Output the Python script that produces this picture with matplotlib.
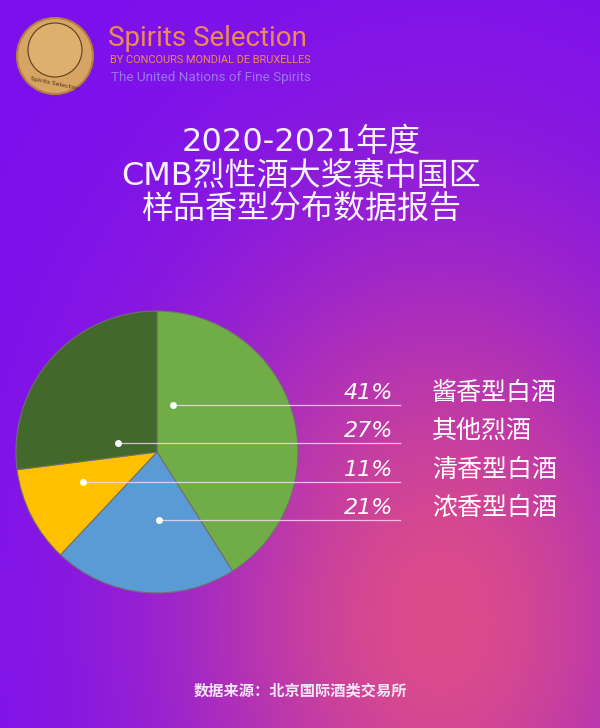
import numpy as np
import matplotlib
matplotlib.use("Agg")
import matplotlib.pyplot as plt
from matplotlib.patches import Circle

plt.rcParams['font.family'] = ['Noto Sans CJK SC', 'DejaVu Sans']

# data (clockwise from 12 o'clock)
categories = ["酱香型白酒", "浓香型白酒", "清香型白酒", "其他烈酒"]
shares = [41, 21, 11, 27]
colors = ["#70AD47", "#5B9BD5", "#FFC000", "#43682B"]

# order of the label rows, top to bottom
label_rows = ["酱香型白酒", "其他烈酒", "清香型白酒", "浓香型白酒"]
# x of the white dot inside each wedge, and y of its leader line (image px)
dot_x = [173, 118, 83, 159]
line_y = [405, 443, 482, 520]

title_lines = ["2020-2021年度", "CMB烈性酒大奖赛中国区", "样品香型分布数据报告"]
source = "数据来源：北京国际酒类交易所"

W, H = 600, 728
fig = plt.figure(figsize=(6, 7.28), dpi=100)
ax = fig.add_axes([0, 0, 1, 1])

# background: purple with a pink glow at the lower right
yy, xx = np.mgrid[0:H, 0:W]
purple = np.array([123, 16, 238]) / 255
pink = np.array([220, 76, 138]) / 255
w = np.exp(-0.5 * ((xx - 440) / 190) ** 2 - 0.5 * ((yy - 620) / 260) ** 2)
bg = purple * (1 - w[..., None]) + pink * w[..., None]
ax.imshow(bg, extent=(0, W, 0, H), origin="upper", zorder=0)

# logo
ax.add_patch(Circle((55, H - 56), 38, fc="#D6A463", ec="#B5803F", lw=1.5, zorder=1))
ax.add_patch(Circle((55, H - 50), 27, fc="#DDB06E", ec="#5a3d1e", lw=0.8, zorder=1))
ax.text(55, H - 84, "Spirits Selection", fontsize=4.5, color="#4a3018",
        ha="center", va="center", rotation=-12, family="DejaVu Sans")
ax.text(108, H - 39, "Spirits Selection", fontsize=20, color="#EE8A55",
        ha="left", va="center", family="Roboto")
ax.text(110, H - 60, "BY CONCOURS MONDIAL DE BRUXELLES", fontsize=7.9,
        color="#EE8A55", ha="left", va="center", family="Roboto")
ax.text(111, H - 77, "The United Nations of Fine Spirits", fontsize=9.7,
        color="#9A78E6", ha="left", va="center", family="Roboto")

# title
for txt, y in zip(title_lines, [142, 176, 210]):
    ax.text(301, H - y, txt, fontsize=23, color="#FBF3FF", ha="center",
            va="center", weight="medium",
            family=["DejaVu Sans", "Noto Sans CJK SC"])

# pie
ax.pie(shares, colors=colors, center=(157, H - 452), radius=141,
       startangle=90, counterclock=False, frame=True,
       wedgeprops=dict(edgecolor="#707070", linewidth=0.8))

# leader lines and labels
for name, dx, ly in zip(label_rows, dot_x, line_y):
    pct = shares[categories.index(name)]
    ax.plot([dx, 400], [H - ly, H - ly], color="#F6D8F2", lw=0.9, alpha=0.85, zorder=4)
    ax.scatter([dx], [H - ly], s=16, color="white", zorder=5)
    ax.text(393, H - ly + 12, f"{pct}%", fontsize=16, color="white", ha="right",
            va="center", family="DejaVu Sans", style="oblique")
    ax.text(432, H - ly + 12, name, fontsize=18, color="white", ha="left",
            va="center", weight="medium")

ax.text(300, H - 690, source, fontsize=11, color="#F4E6F6", ha="center",
        va="center", weight="bold")

ax.set_xlim(0, W)
ax.set_ylim(0, H)
ax.set_aspect("auto")
ax.axis("off")

fig.savefig("out.png", dpi=100)
